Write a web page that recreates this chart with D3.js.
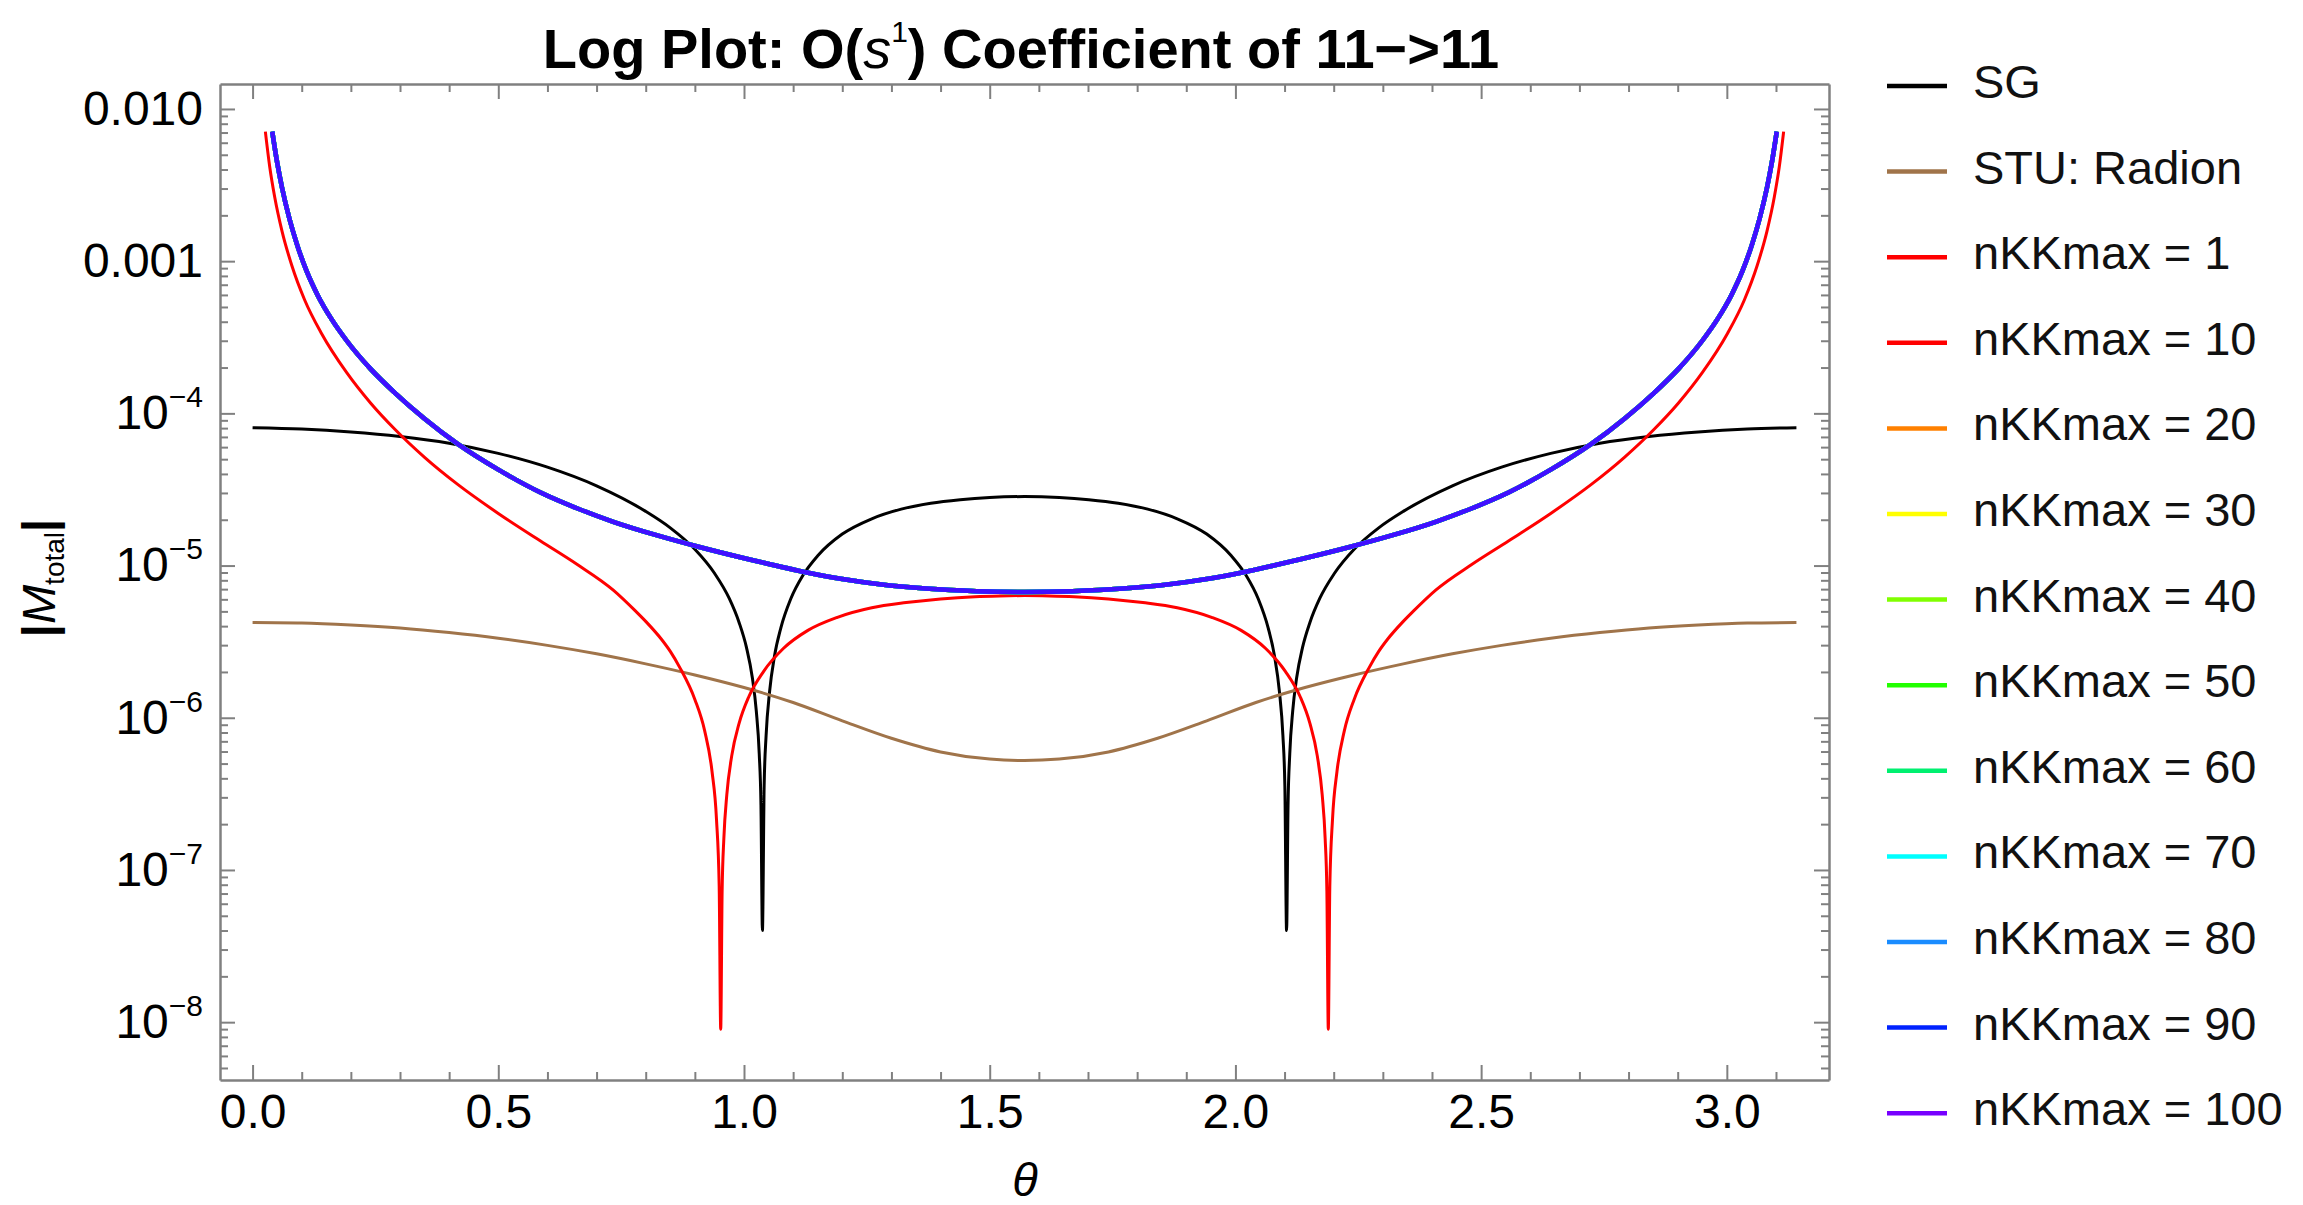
<!DOCTYPE html>
<html>
<head>
<meta charset="utf-8">
<script src="https://cdn.jsdelivr.net/npm/d3@7"></script>
<style>
  body { margin: 0; background: #fff; }
  svg { display: block; font-family: "Liberation Sans", Arial, sans-serif; }
</style>
</head>
<body>
<svg id="chart" width="2303" height="1205"></svg>
<script>
// values, as [theta, |M_total|]
var sgValues = [
  [0.0, 8.05e-5], [0.1, 7.89e-5], [0.2, 7.55e-5], [0.3, 7.05e-5], [0.4, 6.37e-5],
  [0.5, 5.46e-5], [0.6, 4.43e-5], [0.7, 3.34e-5], [0.8, 2.27e-5], [0.85, 1.77e-5],
  [0.9, 1.28e-5], [0.94, 8.9e-6], [0.97, 6.08e-6], [0.99, 4.23e-6], [1.005, 2.9e-6],
  [1.017, 1.83e-6], [1.025, 1.11e-6], [1.031, 5.8e-7], [1.0345, 2.67e-7], [1.0375, 4.0e-8],
  [1.041, 3.58e-7], [1.045, 7.67e-7], [1.052, 1.48e-6], [1.062, 2.54e-6], [1.075, 3.9e-6],
  [1.095, 6.03e-6], [1.12, 8.64e-6], [1.15, 1.16e-5], [1.2, 1.61e-5], [1.26, 2.03e-5],
  [1.32, 2.35e-5], [1.38, 2.57e-5], [1.44, 2.71e-5], [1.5, 2.80e-5], [1.5708, 2.84e-5],
  [1.6416, 2.80e-5], [1.7016, 2.71e-5], [1.7616, 2.57e-5], [1.8216, 2.35e-5], [1.8816, 2.03e-5],
  [1.9416, 1.61e-5], [1.9916, 1.16e-5], [2.0216, 8.64e-6], [2.0466, 6.03e-6], [2.0666, 3.9e-6],
  [2.0796, 2.54e-6], [2.0896, 1.48e-6], [2.0966, 7.67e-7], [2.1006, 3.58e-7], [2.1041, 4.0e-8],
  [2.1071, 2.67e-7], [2.1106, 5.8e-7], [2.1166, 1.11e-6], [2.1246, 1.83e-6], [2.1366, 2.9e-6],
  [2.1516, 4.23e-6], [2.1716, 6.08e-6], [2.2016, 8.9e-6], [2.2416, 1.28e-5], [2.2916, 1.77e-5],
  [2.3416, 2.27e-5], [2.4416, 3.34e-5], [2.5416, 4.43e-5], [2.6416, 5.46e-5], [2.7416, 6.37e-5],
  [2.8416, 7.05e-5], [2.9416, 7.55e-5], [3.0416, 7.89e-5], [3.1416, 8.05e-5]
];

var stuValues = [
  [0.0, 4.22e-6], [0.1, 4.19e-6], [0.2, 4.07e-6], [0.3, 3.89e-6], [0.4, 3.63e-6],
  [0.5, 3.33e-6], [0.6, 2.99e-6], [0.7, 2.63e-6], [0.8, 2.26e-6], [0.9, 1.91e-6],
  [1.0, 1.58e-6], [1.1, 1.26e-6], [1.2, 9.55e-7], [1.3, 7.33e-7], [1.4, 5.96e-7],
  [1.5, 5.35e-7], [1.5708, 5.24e-7],
  [1.6416, 5.35e-7], [1.7416, 5.96e-7], [1.8416, 7.33e-7], [1.9416, 9.55e-7], [2.0416, 1.26e-6],
  [2.1416, 1.58e-6], [2.2416, 1.91e-6], [2.3416, 2.26e-6], [2.4416, 2.63e-6], [2.5416, 2.99e-6],
  [2.6416, 3.33e-6], [2.7416, 3.63e-6], [2.8416, 3.89e-6], [2.9416, 4.07e-6], [3.0416, 4.19e-6],
  [3.1416, 4.22e-6]
];

var nkk1Values = [
  [0.026, 7.1e-3], [0.035, 4.14e-3], [0.045, 2.64e-3], [0.06, 1.57e-3], [0.08, 9.33e-4],
  [0.106, 5.56e-4], [0.14, 3.36e-4], [0.1916, 1.85e-4], [0.24, 1.17e-4], [0.29, 7.83e-5],
  [0.35, 5.14e-5], [0.418, 3.40e-5], [0.5, 2.20e-5], [0.586, 1.45e-5], [0.66, 1.02e-5],
  [0.734, 6.9e-6], [0.78, 5.0e-6], [0.8, 4.3e-6], [0.832, 3.28e-6], [0.85, 2.73e-6],
  [0.87, 2.12e-6], [0.9, 1.32e-6], [0.92, 8.2e-7], [0.935, 4.42e-7], [0.944, 2.16e-7],
  [0.9495, 7.8e-8], [0.9526, 9.0e-9],
  [0.9555, 7.3e-8], [0.959, 1.61e-7], [0.965, 3.11e-7], [0.975, 5.62e-7], [0.99, 9.18e-7],
  [1.01, 1.38e-6], [1.04, 2.02e-6], [1.08, 2.85e-6], [1.13, 3.75e-6], [1.19, 4.57e-6],
  [1.26, 5.28e-6], [1.33, 5.71e-6], [1.4, 6.04e-6], [1.47, 6.25e-6], [1.52, 6.32e-6],
  [1.5708, 6.35e-6],
  [1.6216, 6.32e-6], [1.6716, 6.25e-6], [1.7416, 6.04e-6], [1.8116, 5.71e-6], [1.8816, 5.28e-6],
  [1.9516, 4.57e-6], [2.0116, 3.75e-6], [2.0616, 2.85e-6], [2.1016, 2.02e-6], [2.1316, 1.38e-6],
  [2.1516, 9.18e-7], [2.1666, 5.62e-7], [2.1766, 3.11e-7], [2.1826, 1.61e-7], [2.1861, 7.3e-8],
  [2.189, 9.0e-9], [2.1921, 7.8e-8], [2.1976, 2.16e-7], [2.2066, 4.42e-7], [2.2216, 8.2e-7],
  [2.2416, 1.32e-6], [2.2716, 2.12e-6], [2.2916, 2.73e-6], [2.3096, 3.28e-6], [2.3416, 4.3e-6],
  [2.3616, 5.0e-6], [2.4076, 6.9e-6],
  [2.4816, 1.02e-5], [2.5556, 1.45e-5], [2.6416, 2.20e-5], [2.7236, 3.40e-5], [2.7916, 5.14e-5],
  [2.8516, 7.83e-5], [2.9016, 1.17e-4], [2.95, 1.85e-4], [3.0016, 3.36e-4], [3.0356, 5.56e-4],
  [3.0616, 9.33e-4], [3.0816, 1.57e-3], [3.0966, 2.64e-3], [3.1066, 4.14e-3], [3.1156, 7.1e-3]
];

// nKKmax = 10 ... 100 sit on top of each other in the picture
var nkkConvergedValues = [
  [0.04, 7.1e-3], [0.05, 4.45e-3], [0.06, 3.03e-3], [0.075, 1.90e-3], [0.09, 1.30e-3],
  [0.11, 8.59e-4], [0.1324, 5.98e-4], [0.16, 4.19e-4], [0.1916, 3.0e-4], [0.24, 1.96e-4],
  [0.29, 1.36e-4], [0.35, 9.23e-5], [0.418, 6.28e-5], [0.5, 4.27e-5], [0.586, 3.02e-5],
  [0.66, 2.38e-5], [0.734, 1.94e-5], [0.82, 1.59e-5], [0.911, 1.32e-5], [1.02, 1.08e-5],
  [1.128, 9.0e-6], [1.2, 8.15e-6], [1.276, 7.53e-6], [1.37, 7.06e-6], [1.473, 6.79e-6],
  [1.5708, 6.71e-6],
  [1.6686, 6.79e-6], [1.7716, 7.06e-6], [1.8656, 7.53e-6], [1.9416, 8.15e-6], [2.0136, 9.0e-6],
  [2.1216, 1.08e-5], [2.2306, 1.32e-5], [2.3216, 1.59e-5], [2.4076, 1.94e-5], [2.4816, 2.38e-5],
  [2.5556, 3.02e-5], [2.6416, 4.27e-5], [2.7236, 6.28e-5], [2.7916, 9.23e-5], [2.8516, 1.36e-4],
  [2.9016, 1.96e-4], [2.95, 3.0e-4], [2.9816, 4.19e-4], [3.0092, 5.98e-4], [3.0316, 8.59e-4],
  [3.0516, 1.30e-3], [3.0666, 1.90e-3], [3.0816, 3.03e-3], [3.0916, 4.45e-3], [3.1016, 7.1e-3]
];

var nkkLevels = [10, 20, 30, 40, 50, 60, 70, 80, 90, 100];
var seriesNames = ["SG", "STU: Radion", "nKKmax = 1"].concat(nkkLevels.map(function (n) { return "nKKmax = " + n; }));
var seriesColours = ["#000000", "#a0744a", "#ff0000", "#ff0000", "#ff8000", "#ffff00", "#80ff00",
                     "#22ff00", "#00f070", "#00ffff", "#1a8cff", "#0022ff", "#7700ff"];
var seriesData = [sgValues, stuValues, nkk1Values].concat(nkkLevels.map(function () { return nkkConvergedValues; }));

var xMajorTicks = [0, 0.5, 1.0, 1.5, 2.0, 2.5, 3.0];
var xMinorTicks = [0.1, 0.2, 0.3, 0.4, 0.6, 0.7, 0.8, 0.9, 1.1, 1.2, 1.3, 1.4, 1.6, 1.7, 1.8, 1.9,
                   2.1, 2.2, 2.3, 2.4, 2.6, 2.7, 2.8, 2.9, 3.1];
var yMajorTicks = [1e-2, 1e-3, 1e-4, 1e-5, 1e-6, 1e-7, 1e-8];

var svg = d3.select("#chart");
var plotLeft = 220, plotRight = 1829, plotTop = 84, plotBottom = 1080;
var frameColour = "#808080";

svg.append("rect").attr("width", 2303).attr("height", 1205).attr("fill", "#fff");

var x = d3.scaleLinear()
  .domain([-0.0663, Math.PI + 0.0663])
  .range([plotLeft, plotRight]);
var y = d3.scaleLog()
  .domain([Math.pow(10, -8.38), Math.pow(10, -1.836)])
  .range([plotBottom, plotTop]);

// minor log ticks 2..9 x 10^k inside the range
var yMinorTicks = [];
for (var k = -9; k <= -2; k++) {
  for (var m = 2; m <= 9; m++) {
    var v = m * Math.pow(10, k);
    if (v > y.domain()[0] && v < y.domain()[1]) yMinorTicks.push(v);
  }
}

var styleAxis = function (g) {
  g.selectAll(".domain").attr("stroke", frameColour).attr("stroke-width", 2.5);
  g.selectAll(".tick line").attr("stroke", frameColour).attr("stroke-width", 2);
  g.selectAll(".tick text").attr("fill", "#000").style("font-size", "48px")
    .style("font-family", '"Liberation Sans", Arial, sans-serif');
};

// frame: bottom, top, left, right with inward ticks
var gBottom = svg.append("g").attr("transform", "translate(0," + plotBottom + ")")
  .call(d3.axisBottom(x).tickValues(xMajorTicks).tickSizeInner(-15).tickSizeOuter(0)
    .tickPadding(14).tickFormat(d3.format(".1f")));
styleAxis(gBottom);
svg.append("g").attr("transform", "translate(0," + plotBottom + ")")
  .call(d3.axisBottom(x).tickValues(xMinorTicks).tickSize(-8).tickFormat(""))
  .call(function (g) { g.select(".domain").remove(); styleAxis(g); });

var gTop = svg.append("g").attr("transform", "translate(0," + plotTop + ")")
  .call(d3.axisTop(x).tickValues(xMajorTicks).tickSizeInner(-15).tickSizeOuter(0).tickFormat(""));
styleAxis(gTop);
svg.append("g").attr("transform", "translate(0," + plotTop + ")")
  .call(d3.axisTop(x).tickValues(xMinorTicks).tickSize(-8).tickFormat(""))
  .call(function (g) { g.select(".domain").remove(); styleAxis(g); });

var gLeft = svg.append("g").attr("transform", "translate(" + plotLeft + ",0)")
  .call(d3.axisLeft(y).tickValues(yMajorTicks).tickSizeInner(-15).tickSizeOuter(0)
    .tickPadding(17).tickFormat(function () { return ""; }));
styleAxis(gLeft);
gLeft.selectAll(".tick text").each(function (d) {
  var t = d3.select(this);
  var p = Math.round(Math.log10(d));
  if (p === -2) { t.text("0.010"); return; }
  if (p === -3) { t.text("0.001"); return; }
  t.append("tspan").text("10");
  t.append("tspan").attr("dy", "-22").style("font-size", "30px").text("\u2212" + (-p));
});
svg.append("g").attr("transform", "translate(" + plotLeft + ",0)")
  .call(d3.axisLeft(y).tickValues(yMinorTicks).tickSize(-8).tickFormat(""))
  .call(function (g) { g.select(".domain").remove(); styleAxis(g); });

var gRight = svg.append("g").attr("transform", "translate(" + plotRight + ",0)")
  .call(d3.axisRight(y).tickValues(yMajorTicks).tickSizeInner(-15).tickSizeOuter(0).tickFormat(""));
styleAxis(gRight);
svg.append("g").attr("transform", "translate(" + plotRight + ",0)")
  .call(d3.axisRight(y).tickValues(yMinorTicks).tickSize(-8).tickFormat(""))
  .call(function (g) { g.select(".domain").remove(); styleAxis(g); });

// curves
svg.append("clipPath").attr("id", "plotClip").append("rect")
  .attr("x", plotLeft).attr("y", plotTop)
  .attr("width", plotRight - plotLeft).attr("height", plotBottom - plotTop);

var line = d3.line()
  .x(function (d) { return x(d[0]); })
  .y(function (d) { return y(d[1]); })
  .curve(d3.curveMonotoneX);

svg.append("g").attr("clip-path", "url(#plotClip)")
  .selectAll("path")
  .data(seriesData)
  .enter().append("path")
  .attr("d", line)
  .attr("fill", "none")
  .attr("stroke", function (d, i) { return seriesColours[i]; })
  .attr("stroke-width", function (d, i) { return i >= 3 ? 4.5 : 3; })
  .attr("stroke-opacity", function (d, i) { return i === seriesData.length - 1 ? 0.55 : 1; })
  .attr("stroke-linejoin", "round");

// legend
var legend = svg.append("g").attr("transform", "translate(1887,86)");
var rows = legend.selectAll("g")
  .data(seriesNames)
  .enter().append("g")
  .attr("transform", function (d, i) { return "translate(0," + (i * 85.6) + ")"; });
rows.append("line")
  .attr("x1", 0).attr("x2", 60)
  .attr("stroke", function (d, i) { return seriesColours[i]; })
  .attr("stroke-width", 4.5);
rows.append("text")
  .attr("x", 86).attr("y", 12)
  .style("font-size", "47px")
  .attr("fill", "#111")
  .text(function (d) { return d; });

// title
var title = svg.append("text")
  .attr("x", 1021).attr("y", 68)
  .attr("text-anchor", "middle")
  .style("font-size", "56px").style("font-weight", "bold");
title.append("tspan").text("Log Plot: O(");
title.append("tspan").style("font-style", "italic").style("font-weight", "normal").text("s");
title.append("tspan").attr("dy", "-26").style("font-size", "30px").style("font-weight", "normal").text("1");
title.append("tspan").attr("dy", "26").text(") Coefficient of 11\u2212>11");

// axis labels
svg.append("text")
  .attr("x", 1025).attr("y", 1196)
  .attr("text-anchor", "middle")
  .style("font-size", "47px").style("font-style", "italic")
  .text("\u03b8");

var yLabel = svg.append("text")
  .attr("transform", "translate(55,578) rotate(-90)")
  .attr("text-anchor", "middle")
  .style("font-size", "47px");
yLabel.append("tspan").style("font-weight", "bold").text("|");
yLabel.append("tspan").style("font-style", "italic").text("M");
yLabel.append("tspan").attr("dy", "9").style("font-size", "28px").text("total");
yLabel.append("tspan").attr("dy", "-9").style("font-weight", "bold").text("|");
</script>
</body>
</html>
